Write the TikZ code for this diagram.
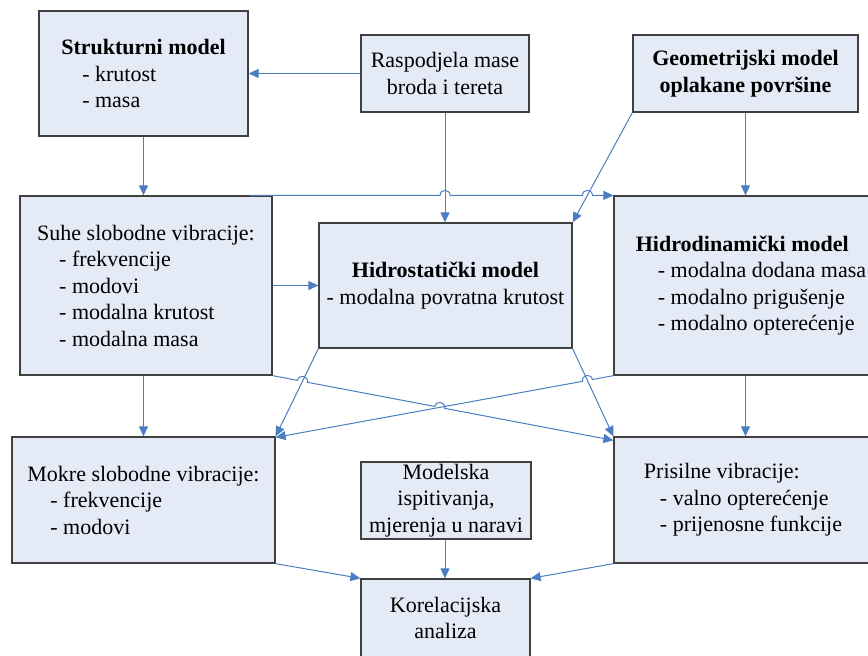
\documentclass[tikz,border=0pt]{standalone}
\usepackage{fontspec}
\setmainfont{Liberation Serif}
\newfontfamily\trfont{Liberation Serif}
\usetikzlibrary{arrows.meta,calc}
\definecolor{linec}{RGB}{74,126,193}
\definecolor{fillc}{RGB}{229,235,246}
\definecolor{boxc}{RGB}{64,64,64}
\begin{document}
\begin{tikzpicture}[x=1pt,y=1pt,
  font=\trfont\fontsize{22}{26.5}\selectfont,
  box/.style={draw=boxc, fill=fillc, line width=1.3pt, inner sep=0pt, align=left},
  cbox/.style={box, align=center},
  conn/.style={draw=linec, line width=1pt, -{Triangle[length=10pt,width=9pt]}}]
\useasboundingbox (0,0) rectangle (868,-656);
\clip (0,0) rectangle (868,-656);

% boxes
\node[box, minimum width=209, minimum height=125] (S) at (143.5,-73.5)
  {\textbf{Strukturni model}\\\hspace*{21pt}- krutost\\\hspace*{21pt}- masa};
\node[cbox, minimum width=168, minimum height=77] (R) at (445,-73.5)
  {Raspodjela mase\\broda i tereta};
\node[cbox, minimum width=225, minimum height=77] (G) at (745.5,-73.5)
  {\textbf{Geometrijski model}\\\textbf{oplakane površine}};
\node[box, minimum width=252, minimum height=179] (D) at (146,-285.5)
  {Suhe slobodne vibracije:\\\hspace*{22pt}- frekvencije\\\hspace*{22pt}- modovi\\\hspace*{22pt}- modalna krutost\\\hspace*{22pt}- modalna masa};
\node[cbox, minimum width=253, minimum height=125] (Hs) at (445.5,-285.5)
  {\textbf{Hidrostatički model}\\- modalna povratna krutost};
\node[box, minimum width=274, minimum height=179] (Hd) at (751,-285.5)
  {\textbf{Hidrodinamički model}\\\hspace*{22pt}- modalna dodana masa\\\hspace*{22pt}- modalno prigušenje\\\hspace*{22pt}- modalno opterećenje};
\node[box, minimum width=263, minimum height=126] (M) at (143.5,-500)
  {Mokre slobodne vibracije:\\\hspace*{23pt}- frekvencije\\\hspace*{23pt}- modovi};
\node[cbox, minimum width=170, minimum height=77] (Mod) at (446,-500.5)
  {Modelska\\ispitivanja,\\mjerenja u naravi};
\node[box, minimum width=258, minimum height=126] (P) at (743,-500)
  {Prisilne vibracije:\\\hspace*{16pt}- valno opterećenje\\\hspace*{16pt}- prijenosne funkcije};
\node[cbox, minimum width=169, minimum height=78] (K) at (445.5,-618)
  {Korelacijska\\analiza};

% connection points
\coordinate (dTop) at ($(D.north east)+(-23,0)$);
\coordinate (hdTL) at (Hd.north west);
\coordinate (rS) at (R.south);
\coordinate (hsN) at (R.south |- Hs.north);
\coordinate (gSW) at (G.south west);
\coordinate (hsNE) at (Hs.north east);
\coordinate (dSE) at (D.south east);
\coordinate (pT) at ($(P.north west)+(0,-4)$);
\coordinate (hsSW) at (Hs.south west);
\coordinate (mNE) at (M.north east);
\coordinate (hdSW) at (Hd.south west);
\coordinate (mT) at ($(M.north east)+(0,-1)$);
\coordinate (hsSE) at (Hs.south east);
\coordinate (pNW) at (P.north west);

\coordinate (X1) at (intersection of dTop--hdTL and rS--hsN);
\coordinate (X2) at (intersection of dTop--hdTL and gSW--hsNE);
\coordinate (X3) at (intersection of dSE--pT and hsSW--mNE);
\coordinate (X4) at (intersection of dSE--pT and hdSW--mT);
\coordinate (X5) at (intersection of hdSW--mT and hsSE--pNW);

% hump end points
\coordinate (X1a) at ($(X1)!5pt!(dTop)$); \coordinate (X1b) at ($(X1)!5pt!(hdTL)$);
\coordinate (X2a) at ($(X2)!5pt!(dTop)$); \coordinate (X2b) at ($(X2)!5pt!(hdTL)$);
\coordinate (X3a) at ($(X3)!5pt!(dSE)$); \coordinate (X3b) at ($(X3)!5pt!(pT)$);
\coordinate (X4a) at ($(X4)!5pt!(dSE)$); \coordinate (X4b) at ($(X4)!5pt!(pT)$);
\coordinate (X5a) at ($(X5)!5pt!(hdSW)$); \coordinate (X5b) at ($(X5)!5pt!(mT)$);

% straight connectors
\draw[conn] (R.west) -- (S.east);
\draw[conn] (S.south) -- (S.south |- D.north);
\draw[conn] (rS) -- (hsN);
\draw[conn] (gSW) -- (hsNE);
\draw[conn] (G.south) -- (G.south |- Hd.north);
\draw[conn] (D.east) -- (Hs.west);
\draw[conn] (S.south |- D.south) -- (S.south |- M.north);
\draw[conn] (G.south |- Hd.south) -- (G.south |- P.north);
\draw[conn] (hsSW) -- (mNE);
\draw[conn] (hsSE) -- (pNW);
\draw[conn] (M.south east) -- (K.north west);
\draw[conn] (R.south |- Mod.south) -- (R.south |- K.north);
\draw[conn] (P.south west) -- (K.north east);

% connectors with line jumps
\draw[conn] (dTop) -- (X1a)
  .. controls ($(X1a)!6.67pt!90:(X1)$) and ($(X1b)!6.67pt!-90:(X1)$) .. (X1b)
  -- (X2a)
  .. controls ($(X2a)!6.67pt!90:(X2)$) and ($(X2b)!6.67pt!-90:(X2)$) .. (X2b)
  -- (hdTL);
\draw[conn] (dSE) -- (X3a)
  .. controls ($(X3a)!6.67pt!90:(X3)$) and ($(X3b)!6.67pt!-90:(X3)$) .. (X3b)
  -- (X4a)
  .. controls ($(X4a)!6.67pt!90:(X4)$) and ($(X4b)!6.67pt!-90:(X4)$) .. (X4b)
  -- (pT);
\draw[conn] (hdSW) -- (X5a)
  .. controls ($(X5a)!6.67pt!-90:(X5)$) and ($(X5b)!6.67pt!90:(X5)$) .. (X5b)
  -- (mT);
\end{tikzpicture}
\end{document}
